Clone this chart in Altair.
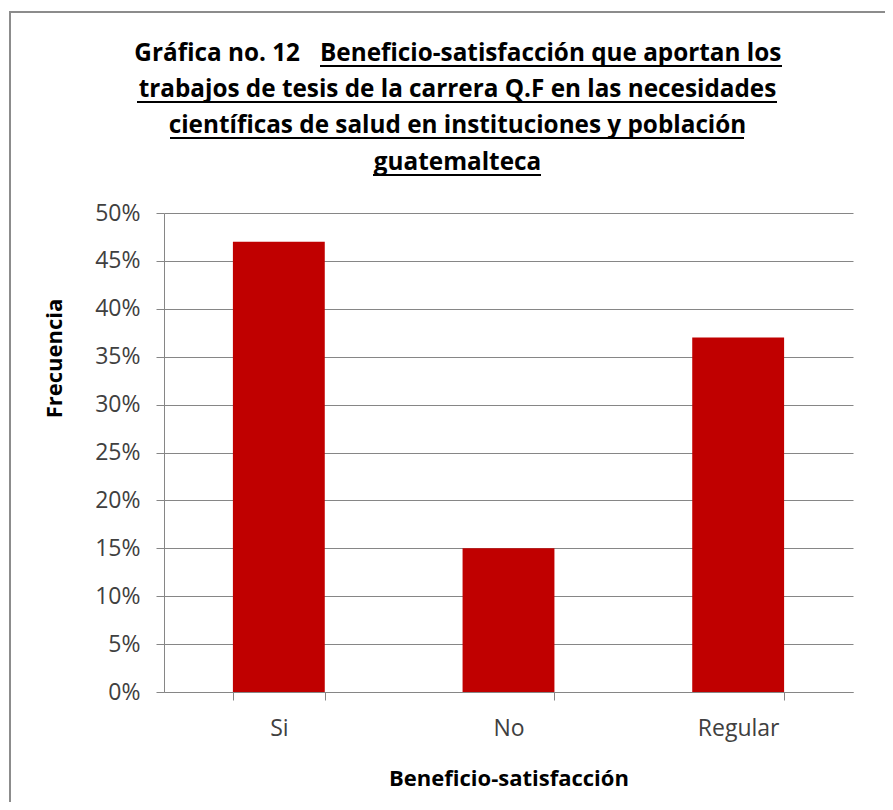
import altair as alt
import pandas as pd

categories = ["Si", "No", "Regular"]
frecuencia = [0.47, 0.15, 0.37]
y_ticks = [0.0, 0.05, 0.10, 0.15, 0.20, 0.25, 0.30, 0.35, 0.40, 0.45, 0.50]
title_prefix = "Gráfica no. 12"
title_lines = [
    "Beneficio-satisfacción que aportan los",
    "trabajos de tesis de la carrera Q.F en las necesidades",
    "científicas de salud en instituciones y población",
    "guatemalteca",
]
x_title = "Beneficio-satisfacción"
y_title = "Frecuencia"

df = pd.DataFrame({"cat": categories, "val": frecuencia})

GRAY = "#868686"
FONT = "Open Sans"
TSIZE = 24.3
LSIZE = 23
ASIZE = 22

bars = alt.Chart(df).mark_bar(color="#C00000").encode(
    x=alt.X(
        "cat:N",
        sort=categories,
        scale=alt.Scale(paddingInner=0.6, paddingOuter=0.3),
        axis=alt.Axis(
            labelAngle=0,
            tickBand="extent",
            tickSize=8,
            tickColor=GRAY,
            domainColor=GRAY,
            labelFont=FONT,
            labelFontSize=LSIZE,
            labelColor="#404040",
            labelBaseline="alphabetic",
            labelPadding=35,
            grid=False,
            title=x_title,
            titleFont=FONT,
            titleFontSize=ASIZE,
            titleFontWeight="bold",
            titleColor="black",
            titleBaseline="alphabetic",
            titleY=93,
        ),
    ),
    y=alt.Y(
        "val:Q",
        scale=alt.Scale(domain=[0, 0.5], nice=False),
        axis=alt.Axis(
            values=y_ticks,
            format=".0%",
            grid=True,
            gridColor=GRAY,
            domainColor=GRAY,
            tickColor=GRAY,
            tickSize=8,
            labelFont=FONT,
            labelFontSize=LSIZE,
            labelColor="#404040",
            labelPadding=16,
            title=y_title,
            titleFont=FONT,
            titleFontSize=ASIZE,
            titleFontWeight="bold",
            titleColor="black",
            titleAngle=-90,
            titleAlign="center",
            titleBaseline="alphabetic",
            titleX=-103,
            titleY=145,
        ),
    ),
)

one = alt.Data(values=[{"k": 1}])

border = alt.Chart(one).mark_rect(fillOpacity=0, stroke="#8c8c8c", strokeWidth=2).encode(
    x=alt.value(-154), x2=alt.value(800), y=alt.value(-201), y2=alt.value(700)
)


def title_text(txt, x, y, align):
    return alt.Chart(one).mark_text(
        font=FONT, fontSize=TSIZE, fontWeight="bold", color="black",
        align=align, baseline="alphabetic",
    ).encode(x=alt.value(x), y=alt.value(y), text=alt.value(txt))


def underline(x1, x2, y):
    return alt.Chart(one).mark_rule(color="black", strokeWidth=2).encode(
        x=alt.value(x1), x2=alt.value(x2), y=alt.value(y)
    )


CX = 293.5
texts = [
    title_text(title_prefix, 136, -152.5, "right"),
    title_text(title_lines[0], 156, -152.5, "left"),
    title_text(title_lines[1], CX, -116, "center"),
    title_text(title_lines[2], CX, -80, "center"),
    title_text(title_lines[3], CX, -43, "center"),
]

lines = [
    underline(156, 618, -147),
    underline(-27, 613, -111),
    underline(6, 580, -75),
    underline(209, 377, -38),
]

chart = alt.layer(border, bars, *texts, *lines).properties(
    width=689,
    height=479,
    autosize=alt.AutoSizeParams(type="none"),
    padding={"left": 156, "top": 205, "right": 32, "bottom": 110},
).configure_view(stroke="transparent")

chart.save("out.html", embed_options={"renderer": "svg", "actions": False})
